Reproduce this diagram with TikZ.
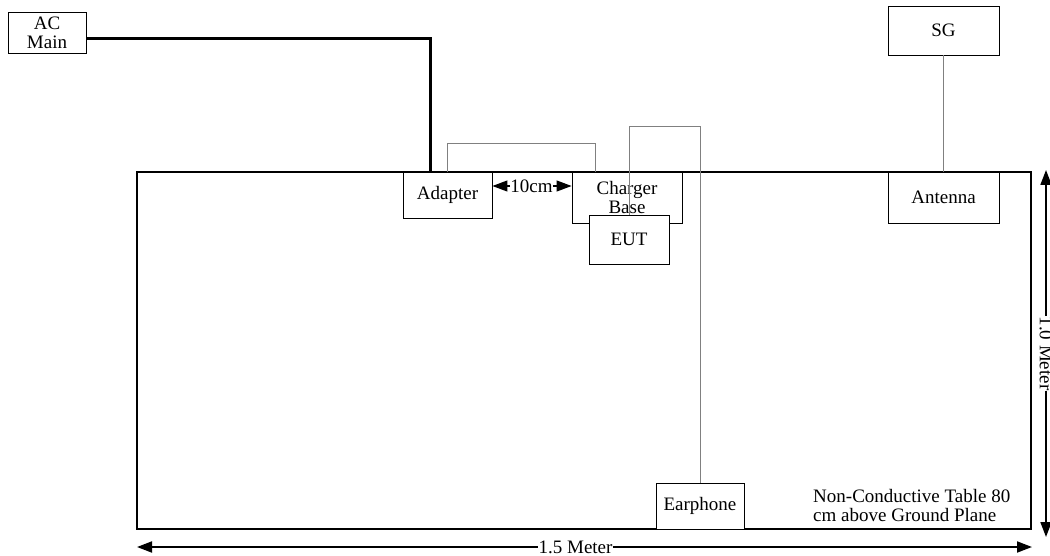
\documentclass[tikz,border=0pt]{standalone}
\usepackage{fontspec}
\setmainfont{Liberation Serif}
\usetikzlibrary{arrows.meta,positioning}

\begin{document}
\begin{tikzpicture}[x=1pt,y=-1pt,font=\fontsize{19}{19}\selectfont]
            \tikzstyle{unit}=[rectangle, draw = black, line width=0.9pt, inner sep=0pt, align=center, fill=white]
            \tikzstyle{table}=[line width=2.4pt, draw = black]
            \tikzstyle{cable}=[line width=1pt, draw = black!50]
            \tikzstyle{mains}=[line width=3pt, draw = black]
            \tikzstyle{dim}=[line width=1.8pt, {Triangle[length=15pt,width=11pt]}-{Triangle[length=15pt,width=11pt]}]
            \tikzstyle{gap}=[line width=1.2pt, -{Triangle[length=15pt,width=11pt]}]
            \useasboundingbox (0,0) rectangle (1050,556);

            % table top
            \draw[table] (137,172) rectangle (1031,529);

            \node[unit, minimum width=78, minimum height=41] (AC) at (47,32.5){AC\\Main};
            \node[unit, minimum width=111, minimum height=49] (SG) at (943.5,30.5){SG};
            \node[unit, minimum width=89, minimum height=46] (AD) at (447.5,195){Adapter};
            \node[unit, minimum width=110, minimum height=51, fill=none] (CB) at (627,197.5){Charger\\Base};
            \node[unit, minimum width=80, minimum height=49] (EUT) at (629,239.5){EUT};
            \node[unit, minimum width=111, minimum height=51] (ANT) at (943.5,197.5){Antenna};
            \node[unit, minimum width=88, minimum height=46] (EP) at (700,506){Earphone};
            \node[align=left, inner sep=0pt, anchor=north west] (NOTE) at (813,489){Non-Conductive Table 80\\cm above Ground Plane};

            % cables
            \draw[mains] ([yshift=-6.5pt]AC.east) -| ([xshift=-17.5pt]AD.north);
            \draw[cable] (AD.north) -- ++(0,-28) -| ([xshift=-32pt]CB.north);
            \draw[cable] (EUT.north) -- ++(0,-88) -| (EP.north);
            \draw[cable] (SG.south) -- (ANT.north);

            % spacing
            \node[inner sep=0pt] (CM) at (531.5,186){10cm};
            \draw[gap] (CM.west) -- (CM.west -| AD.east);
            \draw[gap] (CM.east) -- (CM.east -| CB.west);

            % dimensions
            \coordinate (L1) at (137,547);
            \coordinate (L2) at (1032,547);
            \coordinate (H1) at (1046,170);
            \coordinate (H2) at (1046,537);
            \draw[dim] (L1) -- (L2) node[pos=0.49, fill=white, inner sep=1pt] (LEN) {1.5 Meter};
            \draw[dim] (H1) -- (H2) node[midway, fill=white, inner sep=1pt, rotate=-90] (WID) {1.0 Meter};

        \end{tikzpicture}
\end{document}
